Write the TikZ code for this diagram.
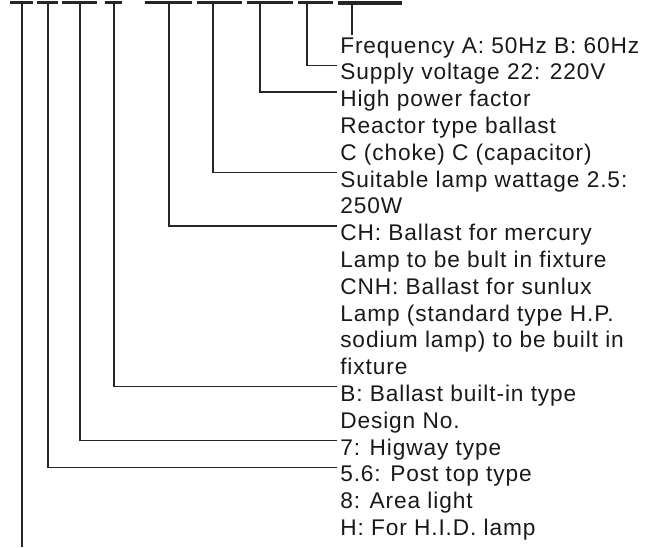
\documentclass[tikz,border=0pt]{standalone}
\usepackage{fontspec}
\newfontfamily\codefont{Liberation Sans}[LetterSpace=4]
\usepackage{tikz}

\begin{document}
\begin{tikzpicture}[x=0.75pt, y=-0.75pt,
    lead/.style={line width=0.9pt, black!85},
    field/.style={line width=2.2pt, black!85},
    code/.style={anchor=base west, inner sep=0pt, text=black!90,
                 font=\codefont\fontsize{17}{20}\selectfont}]
  \useasboundingbox (0,0) rectangle (648,547);
  % code fields along the top
  \foreach \a/\b in {10/33, 37/58, 62/97, 105/122, 145/192, 197/242, 247/293, 298/333}
    {\draw[field] (\a,2.5) -- (\b,2.5);}
  \draw[field, line width=3pt] (338,2.5) -- (402,2.5);
  % lead-off points under the fields
  \foreach \x [count=\i] in {22,48,80,114,169,213,260,307,352}
    {\coordinate (f\i) at (\x,3);}
  \coordinate (end1) at (22,547);
  \coordinate (end9) at (352,35);
  % explanation lines
  \foreach \t [count=\i] in {Frequency A: 50Hz B: 60Hz, Supply voltage 22: 220V,
      High power factor, Reactor type ballast, C (choke) C (capacitor),
      Suitable lamp wattage 2.5:, 250W, CH: Ballast for mercury,
      Lamp to be bult in fixture, CNH: Ballast for sunlux,
      Lamp (standard type H.P., sodium lamp) to be built in, fixture,
      B: Ballast built-in type, Design No., 7: Higway type,
      5.6: Post top type, 8: Area light, H: For H.I.D. lamp}
    {\node[code] (l\i) at (340,{53+26.8*(\i-1)}) {\t};}
  % leaders
  \draw[lead] (f1) -- (end1);
  \draw[lead] (f2) |- ([xshift=-2pt,yshift=-1.5pt]l17.north west);
  \draw[lead] (f3) |- ([xshift=-2pt,yshift=-1.5pt]l16.north west);
  \draw[lead] (f4) |- ([xshift=-2pt,yshift=-1.5pt]l14.north west);
  \draw[lead] (f5) |- ([xshift=-2pt,yshift=-1.5pt]l8.north west);
  \draw[lead] (f6) |- ([xshift=-2pt,yshift=-1.5pt]l6.north west);
  \draw[lead] (f7) |- ([xshift=-2pt,yshift=-1.5pt]l3.north west);
  \draw[lead] (f8) |- ([xshift=-2pt,yshift=-1.5pt]l2.north west);
  \draw[lead] (f9) -- (end9);
\end{tikzpicture}
\end{document}
